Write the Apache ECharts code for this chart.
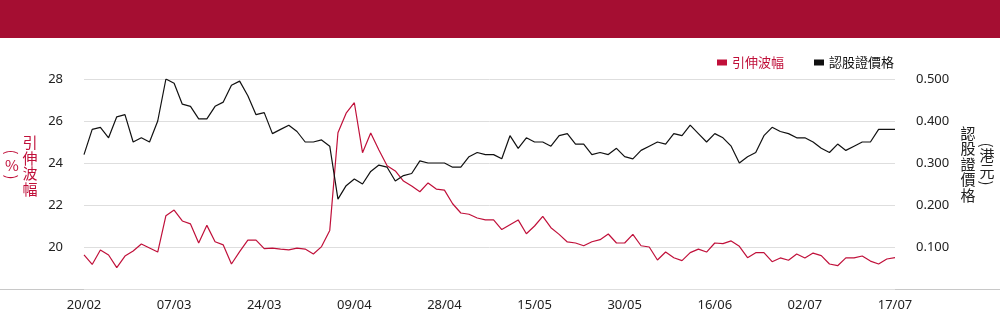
<!DOCTYPE html>
<html>
<head>
<meta charset="utf-8">
<script src="https://cdn.jsdelivr.net/npm/echarts@6/dist/echarts.min.js"></script>
<style>
  html, body { margin: 0; padding: 0; background: #fff; }
  #chart { width: 1000px; height: 324px; }
</style>
</head>
<body>
<div id="chart"></div>
<script>
// trading days, 20/02 - 17/07
const dates = [
  '20/02','21/02','24/02','25/02','26/02','27/02','28/02',
  '03/03','04/03','05/03','06/03','07/03','10/03','11/03','12/03','13/03','14/03',
  '17/03','18/03','19/03','20/03','21/03','24/03','25/03','26/03','27/03','28/03','31/03',
  '01/04','02/04','03/04','07/04','08/04','09/04','10/04','11/04','14/04','15/04','16/04','17/04',
  '22/04','23/04','24/04','25/04','28/04','29/04','30/04',
  '02/05','06/05','07/05','08/05','09/05','12/05','13/05','14/05','15/05','16/05',
  '19/05','20/05','21/05','22/05','23/05','26/05','27/05','28/05','29/05','30/05',
  '02/06','03/06','04/06','05/06','06/06','09/06','10/06','11/06','12/06','13/06',
  '16/06','17/06','18/06','19/06','20/06','23/06','24/06','25/06','26/06','27/06','30/06',
  '02/07','03/07','04/07','07/07','08/07','09/07','10/07','11/07','14/07','15/07','16/07','17/07'
];

// implied volatility (%)
const impliedVol = [
  19.63, 19.17, 19.86, 19.62, 19.02, 19.57, 19.81, 20.14, 19.95, 19.76,
  21.49, 21.76, 21.24, 21.10, 20.19, 21.03, 20.25, 20.10, 19.19, 19.78,
  20.33, 20.33, 19.92, 19.95, 19.90, 19.86, 19.95, 19.90, 19.67, 20.02,
  20.79, 25.44, 26.37, 26.87, 24.49, 25.43, 24.62, 23.87, 23.62, 23.14,
  22.90, 22.63, 23.05, 22.76, 22.71, 22.06, 21.62, 21.56, 21.38, 21.29,
  21.29, 20.83, 21.06, 21.29, 20.63, 21.00, 21.46, 20.92, 20.60, 20.24,
  20.19, 20.06, 20.25, 20.35, 20.62, 20.19, 20.19, 20.60, 20.06, 20.00,
  19.38, 19.76, 19.49, 19.35, 19.73, 19.90, 19.76, 20.19, 20.16, 20.29,
  20.03, 19.49, 19.73, 19.73, 19.30, 19.48, 19.37, 19.67, 19.48, 19.71,
  19.59, 19.19, 19.11, 19.48, 19.48, 19.57, 19.33, 19.19, 19.43, 19.49
];

// warrant price (HKD)
const warrantPrice = [
  0.320, 0.380, 0.385, 0.360, 0.410, 0.415, 0.350, 0.360, 0.350, 0.400,
  0.500, 0.490, 0.440, 0.435, 0.405, 0.405, 0.435, 0.445, 0.485, 0.495,
  0.460, 0.415, 0.420, 0.370, 0.380, 0.390, 0.375, 0.350, 0.350, 0.355,
  0.340, 0.214, 0.246, 0.262, 0.250, 0.280, 0.295, 0.290, 0.257, 0.270,
  0.275, 0.305, 0.300, 0.300, 0.300, 0.290, 0.290, 0.315, 0.325, 0.320,
  0.320, 0.310, 0.365, 0.335, 0.360, 0.350, 0.350, 0.340, 0.365, 0.370,
  0.345, 0.345, 0.320, 0.325, 0.320, 0.335, 0.315, 0.310, 0.330, 0.340,
  0.350, 0.345, 0.370, 0.365, 0.390, 0.370, 0.350, 0.370, 0.360, 0.340,
  0.300, 0.315, 0.325, 0.365, 0.385, 0.375, 0.370, 0.360, 0.360, 0.350,
  0.335, 0.325, 0.345, 0.330, 0.340, 0.350, 0.350, 0.380, 0.380, 0.380
];

const RED = '#C0103A';
const HEADER = '#A50E32';
const FONT = '"Noto Sans", "Noto Sans CJK TC", sans-serif';
const CJK = '"Noto Sans CJK TC", sans-serif';

// vertical text piece helper (parentheses are turned a quarter to stand in vertical form)
const vt = (text, x, y, color, turn) => ({
  type: 'text',
  x: x,
  y: y,
  rotation: turn ? -Math.PI / 2 : 0,
  silent: true,
  style: { text: text, fill: color, font: '15px ' + CJK, align: 'center', verticalAlign: 'middle' }
});

const chart = echarts.init(document.getElementById('chart'));

const options = {
  animation: false,
  textStyle: { fontFamily: FONT },
  graphic: [
    { type: 'rect', shape: { x: 0, y: 0, width: 1000, height: 38 }, style: { fill: HEADER }, silent: true },
    { type: 'line', shape: { x1: 0, y1: 289.5, x2: 1000, y2: 289.5 }, style: { stroke: '#c8c8c8', lineWidth: 1 }, silent: true },
    // left axis title
    vt('(', 12, 152, RED, true),
    vt('%', 12, 165, RED, false),
    vt(')', 12, 177, RED, true),
    { type: 'text', x: 30, y: 166, silent: true, style: { text: '引\n伸\n波\n幅', fill: RED, font: '15px ' + CJK, align: 'center', verticalAlign: 'middle', lineHeight: 15.5 } },
    // right axis title
    { type: 'text', x: 968, y: 164, silent: true, style: { text: '認\n股\n證\n價\n格', fill: '#222', font: '15px ' + CJK, align: 'center', verticalAlign: 'middle', lineHeight: 15.5 } },
    vt('(', 987, 145, '#222', true),
    vt('港', 987, 155, '#222', false),
    vt('元', 987, 171, '#222', false),
    vt(')', 987, 183, '#222', true)
  ],
  legend: {
    right: 101,
    top: 51,
    icon: 'rect',
    itemWidth: 10,
    itemHeight: 6,
    itemGap: 30,
    textStyle: { fontSize: 13, fontFamily: CJK },
    data: [
      { name: '引伸波幅', textStyle: { color: RED } },
      { name: '認股證價格', textStyle: { color: '#111' } }
    ]
  },
  grid: {
    left: 84,
    right: 105,
    top: 79,
    bottom: 35
  },
  xAxis: {
    type: 'category',
    data: dates,
    boundaryGap: false,
    axisLine: { show: false },
    axisTick: { show: false },
    axisLabel: {
      interval: 10,
      color: '#222',
      fontSize: 13,
      margin: 10
    }
  },
  yAxis: [
    {
      type: 'value',
      min: 18,
      max: 28,
      interval: 2,
      axisLine: { show: false },
      axisTick: { show: false },
      axisLabel: {
        color: '#222',
        fontSize: 13,
        margin: 21,
        formatter: v => (v === 18 ? '' : String(v))
      },
      splitLine: { lineStyle: { color: '#dedede', width: 1 } }
    },
    {
      type: 'value',
      min: 0,
      max: 0.5,
      interval: 0.1,
      axisLine: { show: false },
      axisTick: { show: false },
      axisLabel: {
        color: '#222',
        fontSize: 13,
        margin: 21,
        formatter: v => (v === 0 ? '' : v.toFixed(3))
      },
      splitLine: { show: false }
    }
  ],
  series: [
    {
      name: '引伸波幅',
      type: 'line',
      yAxisIndex: 0,
      data: impliedVol,
      symbol: 'none',
      lineStyle: { color: RED, width: 1.2 },
      itemStyle: { color: RED }
    },
    {
      name: '認股證價格',
      type: 'line',
      yAxisIndex: 1,
      data: warrantPrice,
      symbol: 'none',
      lineStyle: { color: '#111', width: 1.2 },
      itemStyle: { color: '#111' }
    }
  ]
};

chart.setOption(options);
</script>
</body>
</html>
